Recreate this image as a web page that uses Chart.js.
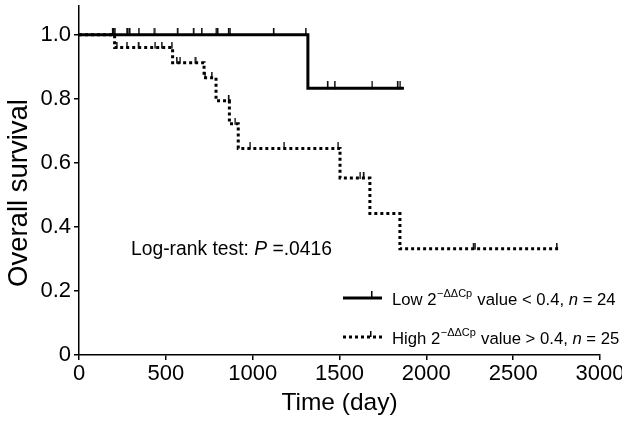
<!DOCTYPE html>
<html>
<head>
<meta charset="utf-8">
<script src="https://cdn.jsdelivr.net/npm/chart.js@4"></script>
<style>
  html, body { margin: 0; padding: 0; background: #fff; }
  #wrap { width: 622px; height: 428px; position: relative; }
</style>
</head>
<body>
<div id="wrap"><canvas id="c" width="622" height="428"></canvas></div>
<script>
// ---- data ----
const xTicks = [0, 500, 1000, 1500, 2000, 2500, 3000];
const xTickLabels = ['0', '500', '1000', '1500', '2000', '2500', '3000'];
const yTicks = [0, 0.2, 0.4, 0.6, 0.8, 1.0];
const yTickLabels = ['0', '0.2', '0.4', '0.6', '0.8', '1.0'];

// Low group (solid): step times and survival after each step
const lowTimes = [0, 1318, 1871];
const lowSurv  = [1.0, 0.833, 0.833];
// Low group censor marks
const lowCensorTimes = [192, 197, 206, 275, 280, 290, 344, 432, 566, 658, 706, 789, 796, 860, 869, 1119, 1305, 1430, 1472, 1687, 1833, 1848];
const lowCensorSurv  = [1, 1, 1, 1, 1, 1, 1, 1, 1, 1, 1, 1, 1, 1, 1, 1, 1, 0.833, 0.833, 0.833, 0.833, 0.833];

// High group (dotted)
const highTimes = [0, 205, 539, 720, 789, 866, 917, 1503, 1675, 1848, 2769];
const highSurv  = [1.0, 0.96, 0.913, 0.866, 0.794, 0.722, 0.645, 0.553, 0.442, 0.332, 0.332];
const highCensorTimes = [217, 275, 341, 437, 476, 534, 562, 581, 668, 725, 764, 860, 898, 984, 1180, 1491, 1618, 1637, 2270, 2280, 2750];
const highCensorSurv  = [0.96, 0.96, 0.96, 0.96, 0.96, 0.96, 0.913, 0.913, 0.913, 0.866, 0.866, 0.794, 0.722, 0.645, 0.645, 0.645, 0.553, 0.553, 0.332, 0.332, 0.332];

const lowLabel = 'Low 2^−ΔΔCp value < 0.4, n = 24';
const highLabel = 'High 2^−ΔΔCp value > 0.4, n = 25';
const yTitle = 'Overall survival';
const xTitle = 'Time (day)';

const FONT = "'Liberation Sans', Arial, Helvetica, sans-serif";

function pts(xs, ys) { return xs.map((x, i) => ({ x: x, y: ys[i] })); }

// censor tick mark: vertical line drawn upward from the point
function makeTick(h, w) {
  const c = document.createElement('canvas');
  c.width = 3; c.height = h * 2;
  const g = c.getContext('2d');
  g.fillStyle = '#000';
  g.fillRect(1, 0, w, h + 1);
  return c;
}
const tickLow = makeTick(7, 1.5);
const tickHigh = makeTick(6, 1.5);

const overlay = {
  id: 'overlay',
  afterDraw(chart) {
    const ctx = chart.ctx;
    ctx.save();
    ctx.fillStyle = '#000';
    ctx.strokeStyle = '#000';

    // y axis title
    ctx.save();
    ctx.translate(19, 193);
    ctx.rotate(-Math.PI / 2);
    ctx.textAlign = 'center';
    ctx.textBaseline = 'middle';
    ctx.font = '27.5px ' + FONT;
    ctx.fillText(yTitle, 0, 0);
    ctx.restore();

    ctx.textBaseline = 'alphabetic';
    ctx.textAlign = 'left';
    // annotation
    let x = 131, y = 255;
    ctx.font = '19.3px ' + FONT;
    ctx.fillText('Log-rank test: ', x, y);
    x += ctx.measureText('Log-rank test: ').width;
    ctx.font = 'italic 19.3px ' + FONT;
    ctx.fillText('P', x, y);
    x += ctx.measureText('P').width;
    ctx.font = '19.3px ' + FONT;
    ctx.fillText(' =.0416', x, y);

    // legend
    function rich(label, x, y) {
      const parts = label.split('^');
      const pre = parts[0];
      const rest = parts[1];
      const sup = rest.split(' ')[0];
      const after = rest.slice(sup.length);
      const ni = after.indexOf('n =');
      const a1 = after.slice(0, ni), a2 = after.slice(ni + 1);
      ctx.font = '16.7px ' + FONT;
      ctx.fillText(pre, x, y); x += ctx.measureText(pre).width;
      ctx.font = '11px ' + FONT;
      ctx.fillText(sup, x + 0.5, y - 8); x += ctx.measureText(sup).width + 1;
      ctx.font = '16.7px ' + FONT;
      ctx.fillText(a1, x, y); x += ctx.measureText(a1).width;
      ctx.font = 'italic 16.7px ' + FONT;
      ctx.fillText('n', x, y); x += ctx.measureText('n').width;
      ctx.font = '16.7px ' + FONT;
      ctx.fillText(a2, x, y);
    }
    // row 1 solid sample
    ctx.lineWidth = 3;
    ctx.setLineDash([]);
    ctx.beginPath(); ctx.moveTo(343, 298); ctx.lineTo(382, 298); ctx.stroke();
    ctx.fillRect(371, 291, 1.5, 7);
    rich(lowLabel, 392, 305);
    // row 2 dotted sample
    ctx.setLineDash([3, 3]);
    ctx.beginPath(); ctx.moveTo(343, 337); ctx.lineTo(382, 337); ctx.stroke();
    ctx.setLineDash([]);
    ctx.fillRect(370, 331, 1.5, 6);
    rich(highLabel, 392, 344);
    ctx.restore();
  }
};

const tickFont = { family: FONT, size: 22 };

new Chart(document.getElementById('c'), {
  type: 'line',
  data: {
    datasets: [
      { label: 'low', data: pts(lowTimes, lowSurv), stepped: 'before', borderColor: '#000', borderWidth: 3, pointRadius: 0, fill: false, order: 1 },
      { label: 'lowC', data: pts(lowCensorTimes, lowCensorSurv), showLine: false, pointStyle: tickLow, pointRadius: 5, order: 0 },
      { label: 'high', data: pts(highTimes, highSurv), stepped: 'before', borderColor: '#000', borderWidth: 3, borderDash: [3, 3], pointRadius: 0, fill: false, order: 3 },
      { label: 'highC', data: pts(highCensorTimes, highCensorSurv), showLine: false, pointStyle: tickHigh, pointRadius: 5, order: 2 }
    ]
  },
  options: {
    responsive: false,
    animation: false,
    events: [],
    layout: { padding: { top: 0, right: 22, left: 0, bottom: 0 } },
    plugins: { legend: { display: false }, tooltip: { enabled: false } },
    scales: {
      x: {
        type: 'linear', min: 0, max: 3000,
        afterFit(s) { s.height = 73; s.paddingLeft = 0; s.paddingRight = 0; },
        afterBuildTicks(s) { s.ticks = xTicks.map(v => ({ value: v })); },
        border: { display: true, color: '#000', width: 1.5 },
        grid: { drawOnChartArea: false, drawTicks: true, tickLength: 5, color: '#000', lineWidth: 1.5 },
        ticks: { color: '#000', font: tickFont, padding: 1, maxRotation: 0, autoSkip: false,
          callback(v) { const i = xTicks.indexOf(v); return i >= 0 ? xTickLabels[i] : ''; } },
        title: { display: true, text: xTitle, color: '#000', font: { family: FONT, size: 24.5 }, padding: { top: 0, bottom: 10 } }
      },
      y: {
        type: 'linear', min: 0, max: 1.09,
        afterFit(s) { s.width = 79; s.paddingTop = 0; s.paddingBottom = 0; },
        afterBuildTicks(s) { s.ticks = yTicks.map(v => ({ value: v })); },
        border: { display: true, color: '#000', width: 1.5 },
        grid: { drawOnChartArea: false, drawTicks: true, tickLength: 5, color: '#000', lineWidth: 1.5 },
        ticks: { color: '#000', font: tickFont, padding: 3,
          callback(v) { const i = yTicks.indexOf(v); return i >= 0 ? yTickLabels[i] : ''; } },
        title: { display: false }
      }
    }
  },
  plugins: [overlay]
});
</script>
</body>
</html>
